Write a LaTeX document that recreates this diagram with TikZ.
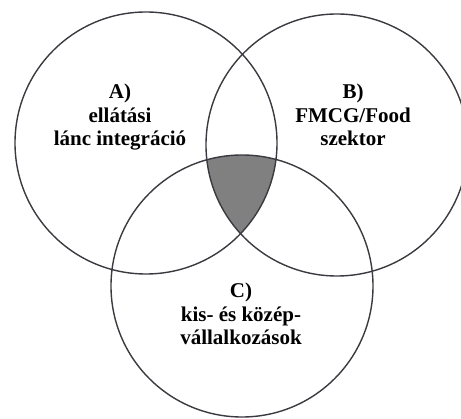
\documentclass[tikz,border=0pt]{standalone}
\usepackage{fontspec}
\setmainfont{Liberation Serif}
\begin{document}
\begin{tikzpicture}[x=1pt,y=-1pt,
  ring/.style={draw=ringgray,line width=1.4pt},
  label/.style={font=\bfseries\fontsize{21}{23.5}\selectfont,align=center,anchor=base,inner sep=0pt}]
\definecolor{ringgray}{HTML}{3A3A40}
\definecolor{coregray}{HTML}{808080}
\useasboundingbox (0,0) rectangle (461,419);
\clip (0,0) rectangle (461,419);
% circle centres
\coordinate (ca) at (146,143);
\coordinate (cb) at (337,145);
\coordinate (cc) at (242,286);
% common part of all three sets
\begin{scope}
  \clip (ca) circle[radius=131];
  \clip (cb) circle[radius=131];
  \fill[coregray] (cc) circle[radius=131];
\end{scope}
\draw[ring] (ca) circle[radius=131];
\draw[ring] (cb) circle[radius=131];
\draw[ring] (cc) circle[radius=131];
% set labels (anchored at the baseline of the last line)
\node[label] (la) at (120,146) {A)\\ellátási\\lánc integráció};
\node[label] (lb) at (353,146) {B)\\FMCG/Food\\szektor};
\node[label] (lc) at (241,345) {C)\\kis- és közép-\\vállalkozások};
\end{tikzpicture}
\end{document}
